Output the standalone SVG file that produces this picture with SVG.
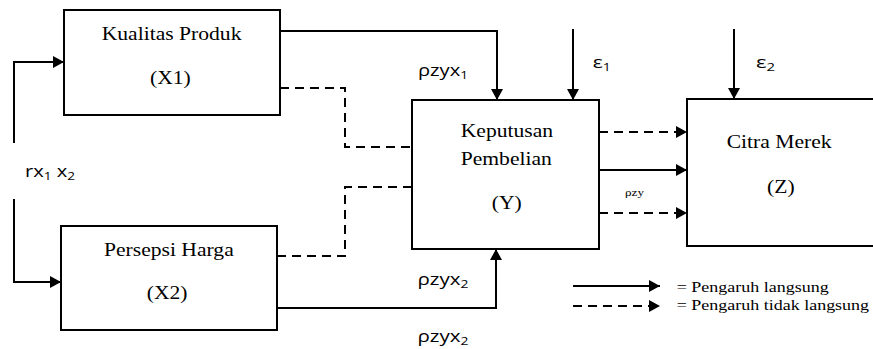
<svg xmlns="http://www.w3.org/2000/svg" width="873" height="349" viewBox="0 0 873 349">
<style>
.box{fill:#fff;stroke:#000;stroke-width:2}
.ln{fill:none;stroke:#000;stroke-width:2}
.ds{fill:none;stroke:#000;stroke-width:2;stroke-dasharray:9 6}
.serif{font-family:"Liberation Serif","Times New Roman",serif;font-size:18px;fill:#000}
.sans{font-family:"Open Sans","Liberation Sans",sans-serif;font-size:17px;fill:#000}
.leg{font-family:"Liberation Serif","Times New Roman",serif;font-size:15px;fill:#000}
.small{font-family:"Liberation Serif","Times New Roman",serif;font-size:11px;fill:#000}
</style>
<defs>
<marker id="ah" markerUnits="userSpaceOnUse" markerWidth="12" markerHeight="12" refX="11" refY="6" orient="auto">
<path d="M0,0 L11,6 L0,12 z" fill="#000"/>
</marker>
</defs>

<g id="connectors">
<path class="ln" d="M14,143 V62 H64" marker-end="url(#ah)"/>
<path class="ln" d="M14,199 V282 H61" marker-end="url(#ah)"/>
<path class="ln" d="M280,31 H497 V100" marker-end="url(#ah)"/>
<path class="ln" d="M573,29 V100" marker-end="url(#ah)"/>
<path class="ln" d="M734,29 V99" marker-end="url(#ah)"/>
<path class="ds" d="M280,88 H345 V147 H412"/>
<path class="ds" d="M277,256 H345 V187 H412"/>
<path class="ln" d="M277,308 H496 V249" marker-end="url(#ah)"/>
<path class="ds" d="M599,132 H687" marker-end="url(#ah)"/>
<path class="ln" d="M599,170 H687" marker-end="url(#ah)"/>
<path class="ds" d="M599,213 H687" marker-end="url(#ah)"/>
<path class="ln" d="M573,286 H660" marker-end="url(#ah)"/>
<path class="ds" d="M573,306 H660" marker-end="url(#ah)"/>
</g>

<g id="node-x1">
<rect class="box" x="64" y="10" width="216" height="105"/>
<text class="serif" transform="translate(101.7,39.5) scale(1.2,1)">Kualitas Produk</text>
<text class="serif" transform="translate(150,84) scale(1.2,1)">(X1)</text>
</g>

<g id="node-x2">
<rect class="box" x="61" y="226" width="216" height="104"/>
<text class="serif" transform="translate(104,255.5) scale(1.2,1)">Persepsi Harga</text>
<text class="serif" transform="translate(146.7,298.5) scale(1.2,1)">(X2)</text>
</g>

<g id="node-y">
<rect class="box" x="412" y="100" width="187" height="149"/>
<text class="serif" transform="translate(460.7,137) scale(1.2,1)">Keputusan</text>
<text class="serif" transform="translate(460.7,164.5) scale(1.2,1)">Pembelian</text>
<text class="serif" transform="translate(491.7,208.5) scale(1.2,1)">(Y)</text>
</g>

<g id="node-z">
<rect class="box" x="687" y="99" width="200" height="147"/>
<text class="serif" transform="translate(726.7,147.5) scale(1.2,1)">Citra Merek</text>
<text class="serif" transform="translate(767,192.5) scale(1.2,1)">(Z)</text>
</g>

<g id="labels">
<text class="sans" transform="translate(418,75.5) scale(1.1,1)" textLength="45.5" lengthAdjust="spacingAndGlyphs">ρzyx<tspan font-size="11.5" dy="3">1</tspan></text>
<text class="sans" transform="translate(592.7,67.5) scale(1.1,1)" textLength="16.4" lengthAdjust="spacingAndGlyphs">ε<tspan font-size="11.5" dy="3">1</tspan></text>
<text class="sans" transform="translate(756,67.5) scale(1.1,1)" textLength="17.3" lengthAdjust="spacingAndGlyphs">ε<tspan font-size="11.5" dy="3">2</tspan></text>
<text class="sans" transform="translate(25,177) scale(1.1,1)" textLength="45.5" lengthAdjust="spacingAndGlyphs">rx<tspan font-size="11.5" dy="3">1</tspan><tspan dy="-3"> x</tspan><tspan font-size="11.5" dy="3">2</tspan></text>
<text class="sans" transform="translate(417.5,285) scale(1.1,1)" textLength="46.4" lengthAdjust="spacingAndGlyphs">ρzyx<tspan font-size="11.5" dy="3">2</tspan></text>
<text class="sans" transform="translate(417.5,342) scale(1.1,1)" textLength="46.4" lengthAdjust="spacingAndGlyphs">ρzyx<tspan font-size="11.5" dy="3">2</tspan></text>
<text class="small" transform="translate(625,196) scale(1.2,1)">ρzy</text>
<text class="leg" transform="translate(676.7,292) scale(1.2,1)">= Pengaruh langsung</text>
<text class="leg" transform="translate(676.7,310) scale(1.2,1)">= Pengaruh tidak langsung</text>
</g>
</svg>
